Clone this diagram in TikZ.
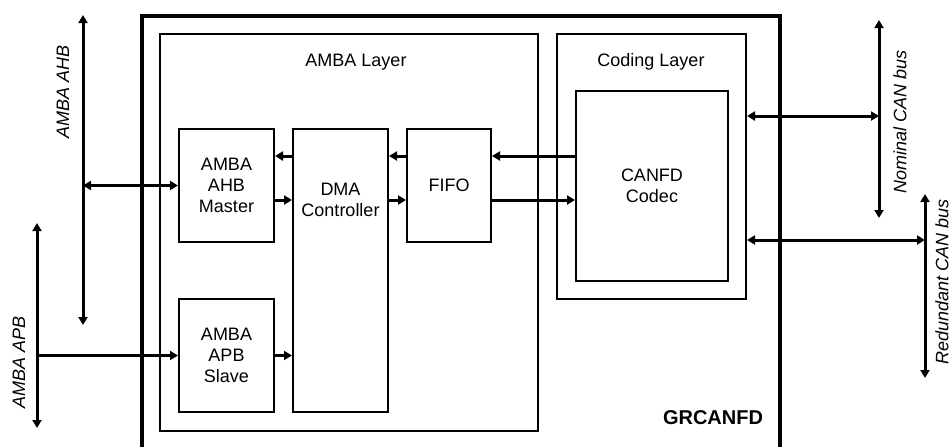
\documentclass[tikz,border=0pt]{standalone}
\usepackage{fontspec}
\setmainfont{Liberation Sans}
\usepackage{tikz}
\usetikzlibrary{arrows.meta,positioning}

\begin{document}
\begin{tikzpicture}[
  x=0.5pt, y=-0.5pt,
  node distance=8.5pt,
  blk/.style={rectangle,draw,line width=1pt,minimum width=47.5pt,minimum height=56.5pt,
    inner sep=0pt,align=center,font=\fontsize{9}{10.5}\selectfont},
  layer/.style={rectangle,draw,line width=1pt,anchor=north west,inner sep=0pt},
  title/.style={font=\fontsize{9}{10.5}\selectfont},
  sig/.style={-{Triangle[length=4pt,width=4.5pt]},line width=1.5pt},
  bus/.style={{Triangle[length=4pt,width=4.5pt]}-{Triangle[length=4pt,width=4.5pt]},line width=1.5pt},
  buslabel/.style={font=\fontsize{9}{10.5}\selectfont\itshape,rotate=90},
]
\useasboundingbox (0,0) rectangle (950,446);
\clip (0,0) rectangle (950,446);

% core outline and layers
\node[layer,line width=1.75pt,minimum width=319pt,minimum height=225pt] (grc) at (140,14) {};
\node[font=\fontsize{10}{12}\selectfont\bfseries] (grclbl) at (713,418) {GRCANFD};
\node[layer,minimum width=189pt,minimum height=198.5pt] (amba) at (159,33) {};
\node[title] (ambalbl) at (356,62) {AMBA Layer};
\node[layer,minimum width=94.5pt,minimum height=132.5pt] (cdl) at (556,33) {};
\node[title] (cdllbl) at (651,62) {Coding Layer};

% blocks
\node[blk,anchor=north west] (mst) at (178,128) {AMBA\\AHB\\Master};
\node[blk,minimum height=141.5pt,right=of mst.north east,anchor=north west,
  label={[title,align=center,anchor=north,yshift=-24pt]north:DMA\\Controller}] (dma) {};
\node[blk,minimum width=42pt,right=of dma.north east,anchor=north west] (fifo) {FIFO};
\node[blk,below=27.5pt of mst] (slv) {AMBA\\APB\\Slave};
\node[blk,minimum width=76pt,minimum height=95pt,anchor=north west] (codec) at (575,90) {CANFD\\Codec};

% internal signals
\coordinate (hi) at (0,156);
\coordinate (lo) at (0,200);
\draw[sig] (dma.west |- hi) -- (mst.east |- hi);
\draw[sig] (mst.east |- lo) -- (dma.west |- lo);
\draw[sig] (fifo.west |- hi) -- (dma.east |- hi);
\draw[sig] (dma.east |- lo) -- (fifo.west |- lo);
\draw[sig] (codec.west |- hi) -- (fifo.east |- hi);
\draw[sig] (fifo.east |- lo) -- (codec.west |- lo);
\draw[sig] (slv.east) -- (slv.east -| dma.west);

% AMBA buses
\coordinate (ahbtop) at (83,15);
\coordinate (ahbbot) at (83,325);
\coordinate (apbtop) at (37,223);
\coordinate (apbbot) at (37,428);
\draw[bus] (ahbtop) -- (ahbbot);
\draw[bus] (ahbtop |- mst) -- (mst.west);
\draw[bus] (apbtop) -- (apbbot);
\draw[sig] (apbtop |- slv) -- (slv.west);
\node[buslabel] (ahblbl) at (63,92) {AMBA AHB};
\node[buslabel] (apblbl) at (19,362) {AMBA APB};

% CAN buses
\coordinate (nomtop) at (879,20);
\coordinate (nombot) at (879,218);
\coordinate (nomh) at (879,116);
\coordinate (redtop) at (925,194);
\coordinate (redbot) at (925,378);
\coordinate (redh) at (925,240);
\draw[bus] (nomtop) -- (nombot);
\draw[bus] (cdl.east |- nomh) -- (nomh);
\draw[bus] (redtop) -- (redbot);
\draw[bus] (cdl.east |- redh) -- (redh);
\node[buslabel] (nomlbl) at (900,122) {Nominal CAN bus};
\node[buslabel] (redlbl) at (942,282) {Redundant CAN bus};
\end{tikzpicture}
\end{document}
